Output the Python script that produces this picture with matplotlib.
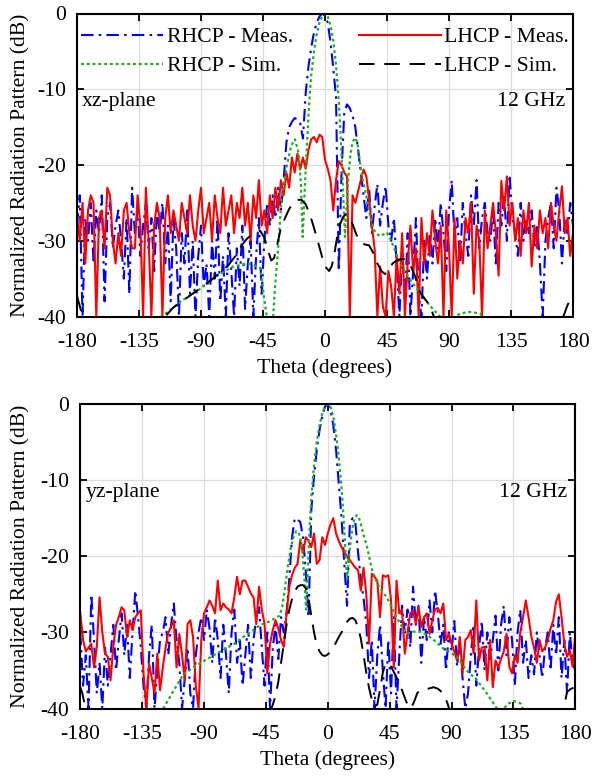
import numpy as np
import matplotlib
matplotlib.use('Agg')
import matplotlib.pyplot as plt

plt.rcParams['font.family'] = ['Liberation Serif', 'DejaVu Serif']
plt.rcParams['axes.unicode_minus'] = False

# measured patterns, 2 degree step
theta_meas = np.arange(-180, 181, 2)

xz_rhcp_meas = [
    -28, -24, -40, -27, -30, -25, -33, -26, -29, -24,
    -38, -27, -25, -31, -28, -26, -30, -35, -27, -37,
    -23, -29, -26, -32, -28, -25, -31, -27, -34, -26,
    -29, -25, -33, -28, -38, -27, -31, -40, -29, -33,
    -26, -37, -30, -40, -32, -28, -36, -33, -40, -30,
    -35, -27, -38, -32, -40, -29, -34, -40, -31, -36,
    -28, -39, -33, -30, -40, -32, -27, -37, -30, -25,
    -28, -24, -27, -23, -26, -22, -17, -15, -14.3, -13.8,
    -14, -14.5, -16.5, -10.5, -7, -4.5, -2.5, -1.2, -0.4, 0,
    -0.3, -1.2, -3.8, -7.2, -11, -34, -21, -13, -12, -12.5,
    -13.5, -15, -18, -21, -24, -27, -23, -29, -25.5, -22.5,
    -28, -25, -22.8, -28, -30, -27, -33, -40, -31, -38,
    -29, -40, -34, -27, -37, -40, -30, -35, -29, -33,
    -27, -31, -25, -29, -34, -26, -22, -30, -27, -33,
    -25, -29, -32, -24, -28, -22, -31, -27, -25, -29,
    -30, -26, -33, -25, -28, -24, -30, -21.3, -27, -29,
    -32, -25, -30, -27, -29, -26, -31, -28, -33, -40,
    -30, -27, -25, -31, -23, -26, -33, -27, -29, -25,
    -28]

xz_lhcp_meas = [
    -27, -30, -25, -33, -26, -24, -25, -40, -27, -26,
    -31, -23, -24, -30, -33, -29, -32, -26, -25, -29,
    -31, -31, -24, -28, -40, -23, -30, -40, -28, -25,
    -27, -40, -27, -24, -29, -26, -28, -30, -25, -27,
    -29, -24, -28, -30, -26, -23, -29, -27, -25, -30,
    -24, -27, -29, -23, -28, -26, -24, -29, -25, -27,
    -23, -28, -25, -30, -24, -27, -22, -28, -26, -29,
    -24, -27, -23, -26, -22, -24, -21, -23, -19, -21,
    -18.5, -20.6, -19, -20.5, -18, -16.6, -16.3, -17, -16, -16.3,
    -19.3, -20.5, -22, -26, -22, -19.5, -20, -21, -21.5, -40,
    -24, -25, -23.5, -22, -20.6, -21.5, -24.5, -28, -31, -40,
    -33.4, -38.7, -40, -34, -36, -40, -32, -37, -29, -40,
    -33, -28, -34, -31, -40, -27, -33, -29, -32, -26,
    -30, -33, -28, -40, -26, -31, -40, -27, -35, -30,
    -33, -27, -29, -25, -37, -28, -30, -40, -26, -31,
    -28, -25, -29, -34.6, -22.1, -26, -21.5, -28, -25, -30,
    -27, -32, -26, -29, -25, -33.4, -28, -31, -26, -29,
    -27, -31, -25, -28, -30, -26, -22.8, -29, -27, -32,
    -29]

yz_rhcp_meas = [
    -30, -37, -33, -40, -25, -31, -38, -34, -40, -32,
    -37, -33, -29, -35, -31, -27.5, -33, -29, -36, -30,
    -24.5, -28, -32, -37, -40, -33, -29, -40, -35, -31,
    -30, -28, -33, -29, -26.2, -31, -34, -40, -36, -32,
    -38, -40, -33, -30, -28, -31, -27, -29.5, -34, -28,
    -31, -36, -29, -33, -38, -30, -27, -34, -31, -37,
    -33, -29, -36, -31, -28, -26.7, -32, -37, -30, -40,
    -32, -29, -33.5, -28, -30, -27.5, -23, -17.5, -15, -15.2,
    -15.5, -17.5, -22, -28, -14, -9.5, -6, -3.4, -1.6, -0.3,
    -0.1, -0.8, -2.8, -6, -10.5, -15, -21, -26.5, -15.8, -15,
    -15.5, -19.5, -23, -25.5, -28.9, -36, -31, -40, -33, -29,
    -35, -40, -31, -38, -28, -40, -33, -26.5, -30, -27,
    -32, -24, -29, -26.5, -34, -28, -31, -25.8, -30, -24.5,
    -27.5, -31.5, -29, -35, -30, -32.5, -28.5, -34.5, -31, -36,
    -40, -38, -33, -29, -37, -32, -28.5, -35, -30, -33.5,
    -31, -27.8, -35, -29, -26.5, -33, -28, -31, -37, -30,
    -27, -34, -31, -36, -33, -35.5, -30, -33, -36, -32,
    -30, -35, -29, -33, -28, -36, -31, -38, -30, -34,
    -35]

yz_lhcp_meas = [
    -27.5, -31, -32.5, -32, -31.5, -34.6, -31.9, -25.4, -30, -32.8,
    -33.2, -36.3, -31.9, -29, -28, -26.7, -27.1, -30.6, -28.4, -29.7,
    -28, -27.5, -27.1, -35.4, -40, -34.1, -36, -38, -32.8, -37.6,
    -34.6, -32, -30, -29.3, -28.4, -34.6, -30.2, -33, -36.3, -28.9,
    -28.4, -30.6, -37, -40, -31, -27.5, -26.7, -25.8, -26.5, -27.5,
    -23.2, -27.1, -26.2, -26.7, -27, -27.5, -25.4, -22.7, -25, -23.2,
    -23.2, -24, -24.9, -25.4, -28.9, -24, -27, -28.9, -35.4, -31.5,
    -29.7, -28.4, -29.5, -31, -31.9, -27.5, -24, -22.5, -21.5, -21,
    -17.9, -19.6, -17.5, -18, -18.8, -17, -21, -20.5, -17.5, -18.5,
    -17, -15.8, -15, -17, -18, -18.8, -19.5, -20, -20.5, -21,
    -21.5, -21.8, -24.5, -21.5, -25, -31.5, -22.3, -22.7, -23.2, -28,
    -22.5, -22.7, -22.5, -25.8, -34.6, -23.2, -27.5, -27, -32.8, -30,
    -27.5, -27.1, -28.9, -26.7, -29.3, -28, -27.5, -30.2, -28.4, -27,
    -26.8, -27.5, -26.2, -31, -30.2, -31.5, -32.5, -33.7, -30.6, -35.4,
    -31, -30.6, -29.7, -32.8, -25.8, -33.7, -32, -31.9, -36.3, -31,
    -37.2, -33.7, -34.6, -33.5, -32.5, -30.2, -34.5, -35.4, -33, -34,
    -30, -28, -25.8, -28, -30.5, -32, -34, -31, -32.5, -32,
    -31, -29.5, -28.4, -26, -25, -28, -31.5, -33.2, -32.4, -34.5,
    -30.2]

# simulated patterns (values below -40 fall outside the axes)
xz_rhcp_sim_theta = [-125, -118.7, -115, -103, -91, -79, -66.6, -56.8, -52, -47,
                     -44.7, -42.3, -40, -37.6, -36.4, -34, -31.6, -27.8, -24.5, -21.8,
                     -19, -17.5, -16.2, -15, -14, -13, -12, -11, -10, -8,
                     -6, -4, -2, 0, 1, 2, 4, 6, 8, 10,
                     11.5, 13, 14.5, 15.5, 17, 18.5, 20, 21.8, 23.5, 25.4,
                     27, 29, 32.7, 36.3, 39.9, 42, 44.8, 47, 49.6, 54.4,
                     61.7, 69, 76.2, 83.5, 89, 94, 98, 105, 112.5, 116, 122]
xz_rhcp_sim = [-43, -40, -39.5, -37.8, -36.4, -34.7, -33.4, -33, -33.2, -33.6,
               -36.8, -40, -42, -40, -36.4, -31, -24.5, -20.2, -17.4, -16.6,
               -18.5, -22.5, -29.5, -24.5, -20.5, -17, -13.5, -10.5, -8.2, -5,
               -2.7, -1.2, -0.3, 0, -0.1, -0.4, -1.6, -3.6, -6.8, -11.5,
               -16.5, -23, -29.5, -26, -21.5, -18.5, -17, -16.4, -17, -19.7,
               -21.6, -23.2, -26.7, -28.9, -29.4, -29.2, -28.9, -29.6, -30.7, -33,
               -35.1, -36.9, -38.6, -40, -40.7, -40.2, -39.6, -39.4, -39.6, -40.3, -42]

xz_lhcp_sim_theta = [-180, -178, -176, -173, -168, -125, -120, -116, -110, -100,
                     -90, -80, -70, -65, -60, -57, -52, -47, -44, -41,
                     -39, -37, -35, -32, -29, -26, -23, -20, -17, -14,
                     -11, -8, -5, -2, 1, 3, 5, 7, 9, 11,
                     13, 15, 17, 19, 21, 23, 26, 29, 32, 35,
                     38, 41, 43.5, 46, 49, 53, 57, 61, 65, 69,
                     73, 76, 79, 83, 90, 165, 170, 173, 176, 178, 180]
xz_lhcp_sim = [-37.3, -38.6, -40, -42.5, -46, -46, -41, -40, -38.8, -37.5,
               -36.2, -34.8, -33.2, -32, -30.5, -29.8, -29, -28.7, -29.6, -31.5,
               -32.6, -32.3, -30.8, -28.3, -27, -25.8, -25, -24.6, -24.6, -25.2,
               -26.5, -28.3, -30.2, -32.2, -33.6, -34, -33.3, -31.5, -29.3, -27.8,
               -26.9, -26.5, -26.6, -27.3, -28.3, -29.3, -30.2, -30.5, -30.6, -31.6,
               -33, -34, -34.4, -34, -33, -32.5, -32.4, -32.8, -34.5, -36.8,
               -37.8, -38.5, -40, -42, -46, -46, -42, -40, -38.5, -37.8, -37.3]

yz_rhcp_sim_theta = [-126, -119, -112, -105, -97, -85, -76, -68, -60, -55,
                     -49, -43, -38, -35, -33, -31, -29, -27, -25, -23,
                     -21.5, -20, -18.5, -17, -15.8, -15, -14, -13, -12, -10,
                     -8, -6, -4, -2, 0, 2, 4, 6, 8, 10,
                     11.5, 13, 14, 15, 16.5, 18, 19.5, 21, 22.5, 24,
                     26, 28.6, 32, 36, 39.5, 43, 46.5, 50, 54, 57.6,
                     62, 67, 72, 77, 84, 94, 101, 108.6, 116, 123,
                     126, 130, 135, 140, 143, 148]
yz_rhcp_sim = [-42, -39.8, -37.6, -35.5, -34.5, -33.2, -32.3, -31.5, -30.4, -29.8,
               -29, -28.6, -28.1, -27.8, -26.5, -24, -21.3, -19, -17.5, -16.7,
               -16.8, -17.5, -19.5, -23, -27, -24, -19.5, -15.5, -12.3, -8,
               -5, -2.8, -1.2, -0.3, 0, -0.4, -1.6, -4, -7, -11,
               -15, -20, -23, -21, -18.2, -16.2, -15.1, -14.6, -14.8, -15.8,
               -17.2, -18.8, -21.7, -23.6, -24.6, -25.4, -26.7, -28, -29.3, -30.2,
               -29.9, -29.9, -30.3, -31, -32.1, -33.2, -35, -36.3, -38.1, -40,
               -40.8, -39.5, -39, -39.3, -40.5, -42]

yz_lhcp_sim_theta = [-180, -178.5, -177, -175, -172, -46, -42, -40, -38, -36,
                     -34, -32, -30, -28, -26, -24, -22, -20, -18, -16,
                     -14, -12, -10, -8, -6, -4, -2, 0, 2, 4,
                     6, 8, 10, 12, 14, 16, 18, 20, 22, 24,
                     26, 28, 30, 32, 34, 36, 38, 40, 42, 44,
                     46, 48, 50, 52, 54, 56, 58, 60.5, 63, 65,
                     67, 70, 73, 77, 80, 84, 87, 89, 92, 168,
                     171, 174, 177, 180]
yz_lhcp_sim = [-37.2, -38, -39.3, -41, -44, -44, -40.5, -39.5, -38.3, -36.5,
               -34, -31.5, -29, -27, -25.6, -24.6, -24, -23.8, -23.8, -24.2,
               -25.5, -27.8, -30, -31.7, -32.5, -33, -33.1, -32.9, -32.5, -32,
               -31.3, -30.6, -30, -29.3, -28.6, -28.2, -28.1, -28.4, -29.3, -30.8,
               -33, -35.3, -37.3, -38.8, -39.7, -39.5, -37.5, -35.3, -34.1, -34,
               -34.5, -35.2, -35.9, -36.8, -37.6, -38.6, -39.5, -40, -39, -38,
               -37.6, -37.5, -37.4, -37.2, -37.4, -38, -39.3, -40.5, -43, -44,
               -40.5, -37.8, -37.4, -37.2]

FS = 15.6

fig = plt.figure(figsize=(5.92, 7.76), dpi=100)
ax1 = fig.add_axes([77 / 592, 1 - 316.5 / 776, 496 / 592, 303 / 776])
ax2 = fig.add_axes([80.3 / 592, 1 - 708.5 / 776, 495 / 592, 304.5 / 776])


def draw_panel(ax, rhcp_meas, lhcp_meas, rs_theta, rs, ls_theta, ls, plane):
    l1, = ax.plot(theta_meas, rhcp_meas, color='#0000ff', lw=1.5,
                  dashes=(6, 2.5, 1.2, 2.5), label='RHCP - Meas.')
    l3, = ax.plot(theta_meas, lhcp_meas, color='#ff0000', lw=1.5,
                  label='LHCP - Meas.')
    l2, = ax.plot(rs_theta, rs, color='#1fb01f', lw=1.6,
                  dashes=(1.3, 1.3), label='RHCP - Sim.')
    l4, = ax.plot(ls_theta, ls, color='black', lw=1.4,
                  dashes=(8, 5), label='LHCP - Sim.')

    ax.set_xlim(-180, 180)
    ax.set_ylim(-40, 0)
    ax.set_xticks(np.arange(-180, 181, 45))
    ax.set_yticks([-40, -30, -20, -10, 0])
    ax.grid(True, color='#dcdcdc', lw=0.9)
    ax.set_axisbelow(True)
    ax.tick_params(direction='in', top=True, right=True, length=5,
                   width=1.3, labelsize=FS)
    ax.tick_params(axis='x', pad=12)
    ax.tick_params(axis='y', pad=8)
    for s in ax.spines.values():
        s.set_linewidth(1.5)

    ax.set_xlabel('Theta (degrees)', fontsize=FS)
    ax.set_ylabel('Normalized Radiation Pattern (dB)', fontsize=FS)
    ax.xaxis.set_label_coords(0.5, -0.138)

    ax.text(0.01, 0.71, plane, transform=ax.transAxes, fontsize=FS,
            ha='left', va='center')
    ax.text(0.984, 0.71, '12 GHz', transform=ax.transAxes, fontsize=FS,
            ha='right', va='center')
    return [l1, l2, l3, l4]


handles = draw_panel(ax1, xz_rhcp_meas, xz_lhcp_meas, xz_rhcp_sim_theta,
                     xz_rhcp_sim, xz_lhcp_sim_theta, xz_lhcp_sim, 'xz-plane')
draw_panel(ax2, yz_rhcp_meas, yz_lhcp_meas, yz_rhcp_sim_theta,
           yz_rhcp_sim, yz_lhcp_sim_theta, yz_lhcp_sim, 'yz-plane')

ax1.yaxis.set_label_coords(-0.094, 0.5)
ax2.yaxis.set_label_coords(-0.101, 0.5)

ax1.legend(handles=handles, ncol=2, loc='upper left', frameon=False,
           fontsize=FS, bbox_to_anchor=(0.008, 0.955), borderaxespad=0,
           borderpad=0, handlelength=3.8, handletextpad=0.15,
           columnspacing=3.05, labelspacing=0.4)

fig.savefig('out.png', dpi=100)
